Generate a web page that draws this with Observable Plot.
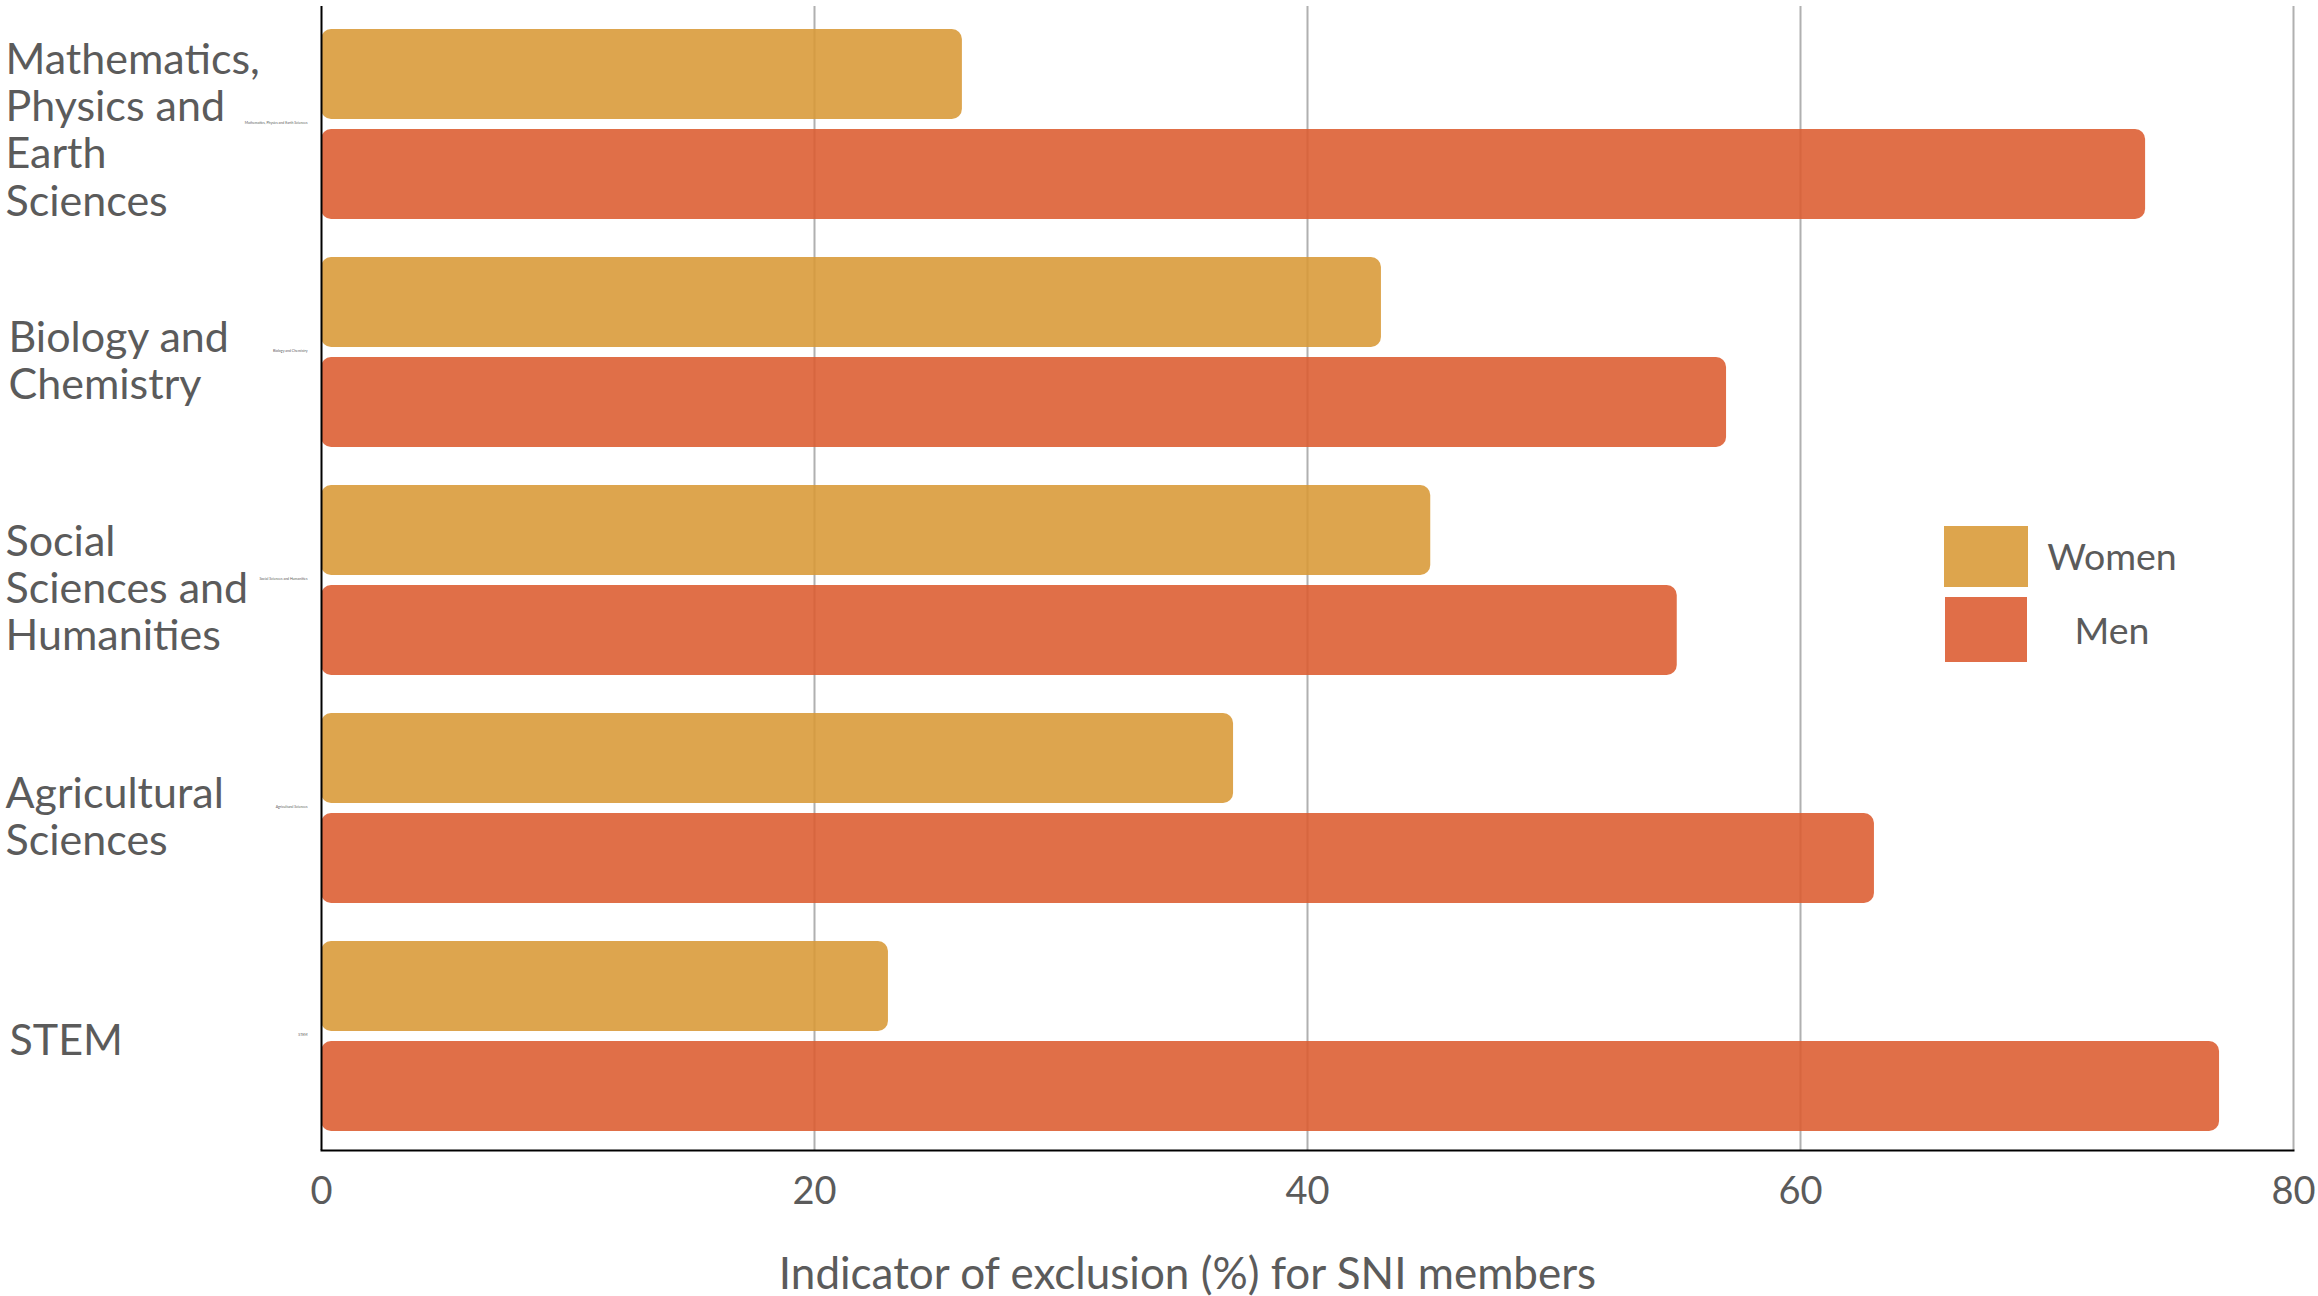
<!DOCTYPE html>
<html><head><meta charset="utf-8">
<script src="https://cdn.jsdelivr.net/npm/d3@7"></script>
<script src="https://cdn.jsdelivr.net/npm/@observablehq/plot@0.6"></script>
<style>
body{margin:0;background:#fff;font-family:Lato,sans-serif;}
#wrap{position:relative;width:2318px;height:1296px;}
.sw{position:absolute;}
.lt{position:absolute;width:180px;text-align:center;font-size:37.5px;color:#5b5b5b;line-height:1;}
</style></head><body><div id="wrap"></div>
<script>
const categories = ["Mathematics, Physics and Earth Sciences","Biology and Chemistry","Social Sciences and Humanities","Agricultural Sciences","STEM"];
const labelLines = [["Mathematics,","Physics and","Earth","Sciences"],["Biology and","Chemistry"],["Social","Sciences and","Humanities"],["Agricultural","Sciences"],["STEM"]];
const women = [26,43,45,37,23];
const men = [74,57,55,63,77];
const xTicks = [0,20,40,60,80];
const series = ["Women","Men"];
const barColors = ["#D89935","#DC5B2F"];
const swatchColors = ["#DDA54D","#E06E48"];
const xLabel = "Indicator of exclusion (%) for SNI members";

const womenData = categories.map((c,i)=>({category:c, group:"Women", value:women[i]}));
const menData = categories.map((c,i)=>({category:c, group:"Men", value:men[i]}));
const wrapLabel = d => labelLines[categories.indexOf(d)].join("\n");
const bigLabel = (ticks, dx, dy) => Plot.axisY({ticks, tickSize:0, tickPadding:0, tickFormat:wrapLabel, textAnchor:"start", dx, dy, fontSize:43, lineHeight:1.1, label:null});

const plot = Plot.plot({
  width:2318, height:1296,
  marginTop:6, marginBottom:146, marginLeft:321, marginRight:25,
  x:{domain:[0,80]},
  y:{domain:categories, padding:0},
  color:{domain:series, range:barColors},
  style:{fontFamily:"Lato, sans-serif", background:"#fff", color:"#5b5b5b"},
  marks:[
    Plot.ruleX(xTicks.slice(1), {stroke:"#b0b0b0", strokeWidth:2}),
    Plot.barX(womenData, {x:"value", y:"category", fill:"group", fillOpacity:0.88, rx:10, insetTop:21, insetBottom:117}),
    Plot.barX(menData, {x:"value", y:"category", fill:"group", fillOpacity:0.88, rx:10, insetTop:121, insetBottom:17}),
    Plot.ruleX([0], {stroke:"#000", strokeWidth:2}),
    Plot.frame({anchor:"bottom", stroke:"#000", strokeWidth:2}),
    Plot.axisX({ticks:xTicks, tickSize:0, tickPadding:27, fontSize:38, label:null}),
    Plot.text([xLabel], {text:d=>d, frameAnchor:"bottom", dx:-120, dy:138, fontSize:44, fill:"#5b5b5b"}),
    Plot.axisY({tickSize:0, tickPadding:14, fontSize:3.5, label:null}),
    bigLabel(categories.slice(0,1), -316, 7),
    bigLabel(categories.slice(1,2), -313, 9.5),
    bigLabel(categories.slice(2,4), -316, 9.5),
    bigLabel(categories.slice(4), -312, 5)
  ]
});
const wrap = document.getElementById("wrap");
wrap.appendChild(plot);

// legend
const legendBoxes = [{l:1944,t:526,w:84,h:61},{l:1945,t:597,w:82,h:65}];
const legendText = [{l:2022,c:556},{l:2022,c:630}];
series.forEach((s,i)=>{
  const sw = document.createElement("div");
  sw.className="sw";
  Object.assign(sw.style,{left:legendBoxes[i].l+"px",top:legendBoxes[i].t+"px",width:legendBoxes[i].w+"px",height:legendBoxes[i].h+"px",background:swatchColors[i]});
  wrap.appendChild(sw);
  const t = document.createElement("div");
  t.className="lt";
  t.textContent=s;
  Object.assign(t.style,{left:legendText[i].l+"px",top:(legendText[i].c-19)+"px"});
  wrap.appendChild(t);
});
</script></body></html>
